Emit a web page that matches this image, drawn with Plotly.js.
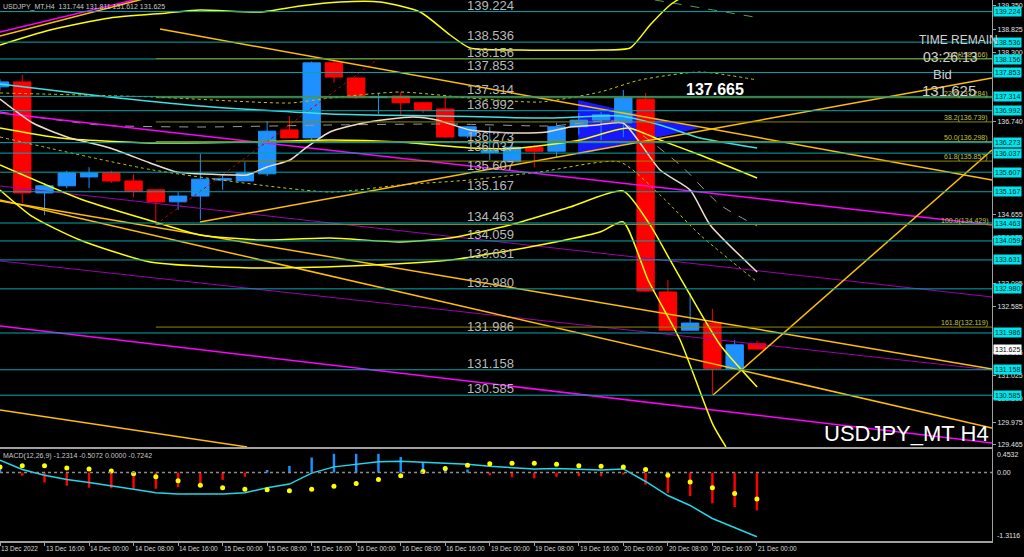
<!DOCTYPE html>
<html><head><meta charset="utf-8">
<script src="https://cdn.plot.ly/plotly-3.0.1.min.js"></script>
<style>html,body{margin:0;padding:0;background:#000;}#chart{width:1024px;height:557px;}</style>
</head><body><div id="chart"></div>
<script>
// ---------------- DATA ----------------
const symbolHeader = 'USDJPY_MT,H4  131.744 131.811 131.612 131.625';
const macdHeader = 'MACD(12,26,9) -1.2314 -0.5072 0.0000 -0.7242';
const barTimes = ['13 Dec 08:00','13 Dec 12:00','13 Dec 16:00','13 Dec 20:00',
 '14 Dec 00:00','14 Dec 04:00','14 Dec 08:00','14 Dec 12:00','14 Dec 16:00','14 Dec 20:00',
 '15 Dec 00:00','15 Dec 04:00','15 Dec 08:00','15 Dec 12:00','15 Dec 16:00','15 Dec 20:00',
 '16 Dec 00:00','16 Dec 04:00','16 Dec 08:00','16 Dec 12:00','16 Dec 16:00','16 Dec 20:00',
 '19 Dec 00:00','19 Dec 04:00','19 Dec 08:00','19 Dec 12:00','19 Dec 16:00','19 Dec 20:00',
 '20 Dec 00:00','20 Dec 04:00','20 Dec 08:00','20 Dec 12:00','20 Dec 16:00','20 Dec 20:00',
 '21 Dec 00:00'];
const openP  = [137.53,137.64,135.14,135.30,135.50,135.59,135.41,135.21,134.94,135.07,135.43,135.41,135.57,136.56,136.38,138.07,137.73,137.29,137.32,137.17,137.03,136.42,136.05,135.84,136.17,136.08,136.63,136.78,136.72,137.25,132.91,132.05,132.21,131.18,131.744];
const highP  = [137.70,137.80,135.36,135.64,135.72,135.64,135.57,135.21,135.16,136.02,135.55,135.84,136.76,136.87,138.10,138.166,137.75,137.39,137.41,137.19,137.35,136.65,136.63,136.40,136.22,136.72,136.94,136.96,137.46,137.39,133.18,132.89,132.53,131.83,131.811];
const lowP   = [137.45,134.91,134.64,135.25,135.25,135.36,135.05,134.43,134.76,134.53,135.21,135.41,135.52,136.38,136.30,137.62,137.26,136.92,136.90,136.94,136.38,136.38,135.88,135.84,135.72,135.95,136.45,136.33,136.40,132.91,132.05,132.05,130.59,131.18,131.612];
const closeP = [137.64,135.14,135.30,135.59,135.59,135.41,135.18,134.94,135.07,135.45,135.46,135.59,136.53,136.38,138.07,137.75,137.30,137.31,137.17,137.01,136.40,136.63,136.10,136.17,136.08,136.63,136.78,136.90,137.28,132.93,132.05,132.21,131.18,131.72,131.625];

const tickIdx = [0,2,4,6,8,10,12,14,16,18,20,22,24,26,28,30,32,34];
const tickLabels = ['13 Dec 2022','13 Dec 16:00','14 Dec 00:00','14 Dec 08:00','14 Dec 16:00','15 Dec 00:00','15 Dec 08:00','15 Dec 16:00','16 Dec 00:00','16 Dec 08:00','16 Dec 16:00','19 Dec 00:00','19 Dec 08:00','19 Dec 16:00','20 Dec 00:00','20 Dec 08:00','20 Dec 16:00','21 Dec 00:00'];
const priceTicks = [139.350,138.825,138.300,136.740,134.655,134.135,133.095,132.585,131.555,131.025,130.500,129.975,129.465];

const levelPrices = [139.224,138.536,138.156,137.853,137.314,136.992,136.273,136.037,135.607,135.167,134.463,134.059,133.631,132.980,131.986,131.158,130.585];
const fiboPct   = ['0.0','23.6','38.2','50.0','61.8','100.0','161.8'];
const fiboPrice = [138.166,137.284,136.739,136.298,135.857,134.429,132.119];
const fiboAnchorIdx   = [7, 17];
const fiboAnchorPrice = [134.429, 138.166];
const bidPrice = 131.625;
const markPrice = 137.665;

// indicator curves (bar index, price)
const bandUpperIdx = [0,2.25,4.94,7.50,8.98,11.68,13.48,15.27,17.07,18.87,20.22,21.11,23.36,26.95,28.30,29.20,30.10,30.8];
const bandUpperPx  = [138.472,138.809,139.080,139.192,139.260,139.215,139.350,139.440,139.440,139.215,138.697,138.404,138.359,138.359,138.404,138.922,139.372,139.60];
const bandMidIdx = [0,2.70,6.74,11.23,14.82,17.97,21.11,23.36,26.06,28.21,29.65,31.45,34.01];
const bandMidPx  = [136.603,136.377,136.265,136.287,136.333,136.287,136.152,136.152,136.333,136.603,136.333,135.995,135.477];
const bandLowIdx = [0,3.73,6.96,8.98,11.68,14.82,17.97,20.22,22.91,25.61,27.99,29.20,30.10,31.00,32.35,34.01];
const bandLowPx  = [135.770,134.981,134.486,134.193,134.081,134.126,134.036,134.126,134.419,134.824,135.184,134.419,133.630,132.842,131.716,130.770];
const bandLow2Idx = [0,1.48,3.59,6.74,11.23,15.72,20.22,24.26,26.95,27.99,29.11,30.55,32.03,32.61];
const bandLow2Px  = [135.207,134.599,134.081,133.585,133.450,133.495,133.630,133.968,134.261,134.486,133.180,131.829,129.915,129.419];
const maWhiteIdx = [0,1.48,3.01,4.94,6.74,7.95,10.47,11.10,11.99,13.03,13.79,14.82,16.31,18.55,19.63,21.11,23.05,24.57,25.61,26.82,27.99,29.65,31.00,31.90,34.01];
const maWhitePx  = [137.256,136.715,136.400,136.152,135.815,135.612,135.544,135.544,135.724,135.882,136.175,136.513,136.715,136.850,136.783,136.558,136.490,136.513,136.625,136.670,136.715,135.657,135.207,134.419,133.360];
const maCyanIdx = [0,4.49,8.98,14.82,19.77,24.71,27.85,29.65,31.45,34.01];
const maCyanPx  = [137.593,137.323,137.098,136.918,136.873,136.828,136.873,136.670,136.377,136.152];
const envUpIdx = [0,6.87,13.03,14.82,17.97,21.11,24.26,26.95,28.75,31.45,34.01];
const envUpPx  = [137.391,137.301,137.166,137.278,137.413,137.278,137.188,137.413,137.684,137.864,137.684];
const envLowIdx = [0,6.87,14.82,17.97,21.11,24.26,27.85,29.65,31.45,34.01];
const envLowPx  = [136.400,135.657,135.162,135.319,135.432,135.612,135.837,135.094,134.193,133.135];
const envGrayIdx = [0,4.49,8.98,14.82,20.22,24.71,27.85,30.55,32.35,34.01];
const envGrayPx  = [136.963,136.670,136.625,136.670,136.693,136.648,136.738,135.770,134.869,134.396];

// trend lines (two end points each)
const magentaAIdx = [0,44.56], magentaAPx = [136.940,134.419];
const purpleBIdx  = [0,44.56], purpleBPx  = [135.297,132.797];
const purpleDIdx  = [0,44.56], purpleDPx  = [133.608,131.153];
const magentaCIdx = [0,44.56], magentaCPx = [132.145,129.509];
const magentaTLIdx = [0,6.8], magentaTLPx = [138.764,139.58];
const goldTLIdx = [0,7.0], goldTLPx = [138.674,139.58];
const gold1Idx = [7.19,44.56], gold1Px = [138.832,135.432];
const gold2Idx = [8.98,44.56], gold2Px = [134.486,137.729];
const gold3Idx = [0,44.56], gold3Px = [134.959,131.176];
const gold4Idx = [0,44.56], gold4Px = [134.981,129.847];
const gold5Idx = [0,11.10], gold5Px = [130.253,129.419];
const gold6Idx = [32.03,44.56], gold6Px = [130.590,136.107];
const greenDashIdx = [29.42,34.14], greenDashPx = [139.485,139.080];
const zoneIdx = [25.97,31.45,25.97], zonePx = [137.233,136.603,135.995];

// MACD
const macdMain   = [0.24,0.06,-0.05,-0.13,-0.19,-0.25,-0.32,-0.385,-0.41,-0.41,-0.41,-0.385,-0.29,-0.22,-0.01,0.11,0.16,0.21,0.22,0.20,0.17,0.16,0.12,0.09,0.07,0.08,0.06,0.05,0.07,-0.17,-0.44,-0.63,-0.88,-1.06,-1.2314];
const macdSignal = [0.11,0.13,0.13,0.09,0.07,0.03,-0.02,-0.08,-0.155,-0.24,-0.29,-0.32,-0.33,-0.35,-0.32,-0.26,-0.21,-0.13,-0.06,0.02,0.08,0.14,0.17,0.18,0.18,0.16,0.13,0.12,0.11,0.06,-0.05,-0.18,-0.29,-0.40,-0.5072];
const macdHist   = [0.13,-0.06,-0.19,-0.25,-0.29,-0.30,-0.31,-0.31,-0.28,-0.20,-0.14,-0.08,0.05,0.13,0.29,0.36,0.36,0.36,0.30,0.20,0.12,0.06,-0.05,-0.09,-0.11,-0.08,-0.07,-0.07,-0.04,-0.23,-0.39,-0.45,-0.59,-0.66,-0.7242];
const macdTopLabel = 0.4532, macdBottomLabel = -1.3116;

// ---------------- CHART ----------------
const barIdx = barTimes.map((_, i) => i);
const xRange = [0, 44.56];
const priceRange = [129.419, 139.485];
const FONT = 'Liberation Sans, Arial, sans-serif';

const traces = [];
function line(xs, ys, color, width, dash) {
  traces.push({type:'scatter', mode:'lines', x:xs, y:ys, xaxis:'x', yaxis:'y',
    line:{color:color, width:width, dash:dash||'solid', shape:'spline', smoothing:0.6},
    hoverinfo:'skip', showlegend:false});
}
traces.push({type:'candlestick', x:barIdx, open:openP, high:highP, low:lowP, close:closeP,
  xaxis:'x', yaxis:'y', whiskerwidth:0, hoverinfo:'skip', showlegend:false,
  increasing:{line:{color:'#1e90ff', width:1}, fillcolor:'#1e90ff'},
  decreasing:{line:{color:'#ff0000', width:1}, fillcolor:'#ff0000'}});

line(envGrayIdx, envGrayPx, '#9a9a9a', 1, 'dash');
line(envUpIdx, envUpPx, '#c8c800', 1, 'dot');
line(envLowIdx, envLowPx, '#c8c800', 1, 'dot');
line(fiboAnchorIdx, fiboAnchorPrice, '#c00000', 1, 'dot');
line(purpleBIdx, purpleBPx, '#a000b0', 1);
line(purpleDIdx, purpleDPx, '#a000b0', 1);
line(magentaAIdx, magentaAPx, '#ff00ff', 1.5);
line(magentaCIdx, magentaCPx, '#ff00ff', 1.5);
line(magentaTLIdx, magentaTLPx, '#ff00ff', 1.5);
line(goldTLIdx, goldTLPx, '#ffbf00', 1.5);
line(gold1Idx, gold1Px, '#ffbf00', 1.5);
line(gold2Idx, gold2Px, '#ffbf00', 1.5);
line(gold3Idx, gold3Px, '#ffbf00', 1.5);
line(gold4Idx, gold4Px, '#ffbf00', 1.5);
line(gold5Idx, gold5Px, '#ffbf00', 1.5);
line(gold6Idx, gold6Px, '#ffbf00', 1.5);
line(greenDashIdx, greenDashPx, '#50a050', 1, 'dash');
line(maCyanIdx, maCyanPx, '#40e0e0', 1.5);
line(bandUpperIdx, bandUpperPx, '#ffff00', 1.5);
line(bandMidIdx, bandMidPx, '#ffff00', 1.5);
line(bandLowIdx, bandLowPx, '#ffff00', 1.5);
line(bandLow2Idx, bandLow2Px, '#ffff00', 1.5);
line(maWhiteIdx, maWhitePx, '#f0dcc8', 1.5);

// MACD panel
traces.push({type:'bar', x:barIdx, y:macdHist, xaxis:'x2', yaxis:'y2', width:0.11,
  marker:{color:macdHist.map(v => v >= 0 ? '#1e90ff' : '#ff0000'), line:{width:0}},
  hoverinfo:'skip', showlegend:false});
traces.push({type:'scatter', mode:'lines', x:barIdx, y:macdMain, xaxis:'x2', yaxis:'y2',
  line:{color:'#20d8e8', width:1.5}, hoverinfo:'skip', showlegend:false});
traces.push({type:'scatter', mode:'markers', x:barIdx, y:macdSignal, xaxis:'x2', yaxis:'y2',
  marker:{color:'#ffff00', size:5}, hoverinfo:'skip', showlegend:false});

// shapes
const shapes = [];
shapes.push({type:'path', xref:'x', yref:'y', layer:'below',
  path:'M' + zoneIdx.map((x, i) => x + ',' + zonePx[i]).join(' L') + ' Z',
  fillcolor:'#1818ff', line:{width:0}});
levelPrices.forEach(p => shapes.push({type:'line', xref:'paper', yref:'y', x0:0, x1:1, y0:p, y1:p,
  line:{color:'#00a8b0', width:1}, layer:'above'}));
fiboPrice.forEach(p => shapes.push({type:'line', xref:'x', yref:'y', x0:fiboAnchorIdx[0], x1:xRange[1], y0:p, y1:p,
  line:{color:'#8a8a00', width:1}, layer:'above'}));
shapes.push({type:'line', xref:'paper', yref:'y2', x0:0, x1:1, y0:0, y1:0, line:{color:'#8c8c8c', width:1.5, dash:'dot'}});

// annotations
const ann = [];
ann.push({xref:'paper', yref:'paper', x:0, y:1, xanchor:'left', yanchor:'top', xshift:1, yshift:-1, showarrow:false,
  text:symbolHeader, font:{family:FONT, size:7, color:'#c8c8c8'}});
ann.push({xref:'paper', yref:'paper', x:0, y:0.1701, xanchor:'left', yanchor:'top', xshift:1, yshift:-1, showarrow:false,
  text:macdHeader, font:{family:FONT, size:7, color:'#c8c8c8'}});
levelPrices.forEach(p => {
  ann.push({xref:'paper', yref:'y', x:0.494, y:p, xanchor:'center', yanchor:'bottom', yshift:-2, borderpad:0, showarrow:false,
    text:p.toFixed(3), font:{family:FONT, size:13, color:'#b9b9b9'}});
  ann.push({xref:'paper', yref:'y', x:1, y:p, xanchor:'left', yanchor:'middle', xshift:1, showarrow:false,
    text:p.toFixed(3), bgcolor:'#00e4ec', borderpad:1, font:{family:FONT, size:7, color:'#002a2a'}});
});
fiboPct.forEach((lbl, i) => ann.push({xref:'paper', yref:'y', x:1, y:fiboPrice[i], xanchor:'right', yanchor:'bottom',
  xshift:-2, yshift:-2, showarrow:false, text:lbl + '(' + fiboPrice[i].toFixed(3) + ')',
  font:{family:FONT, size:7, color:'#c0c040'}}));
ann.push({xref:'paper', yref:'y', x:1, y:bidPrice, xanchor:'left', yanchor:'middle', xshift:1, showarrow:false,
  text:bidPrice.toFixed(3), bgcolor:'#ffffff', borderpad:1, font:{family:FONT, size:7, color:'#000'}});
ann.push({xref:'x', yref:'y', x:32.1, y:markPrice, xanchor:'center', yanchor:'middle', yshift:-9, showarrow:false,
  text:'<b>' + markPrice.toFixed(3) + '</b>', font:{family:FONT, size:16, color:'#ffffff'}});
ann.push({xref:'paper', yref:'paper', x:0.966, y:0.926, xanchor:'center', yanchor:'middle', showarrow:false,
  text:'TIME REMAIN', font:{family:FONT, size:12, color:'#d0d0d0'}});
ann.push({xref:'paper', yref:'paper', x:0.958, y:0.8946, xanchor:'center', yanchor:'middle', showarrow:false,
  text:'03:26:13', font:{family:FONT, size:14, color:'#d0d0d0'}});
ann.push({xref:'paper', yref:'paper', x:0.9506, y:0.8614, xanchor:'center', yanchor:'middle', showarrow:false,
  text:'Bid', font:{family:FONT, size:13, color:'#d0d0d0'}});
ann.push({xref:'paper', yref:'paper', x:0.9567, y:0.8318, xanchor:'center', yanchor:'middle', showarrow:false,
  text:bidPrice.toFixed(3), font:{family:FONT, size:15, color:'#d0d0d0'}});
ann.push({xref:'paper', yref:'paper', x:1, y:0.1978, xanchor:'right', yanchor:'middle', xshift:-1, showarrow:false,
  text:'USDJPY_MT H4', font:{family:FONT, size:22, color:'#ffffff'}});
ann.push({xref:'paper', yref:'y2', x:1, y:macdTopLabel, xanchor:'left', yanchor:'top', xshift:3, showarrow:false,
  text:macdTopLabel.toFixed(4), font:{family:FONT, size:7, color:'#e0e0e0'}});
ann.push({xref:'paper', yref:'y2', x:1, y:0, xanchor:'left', yanchor:'middle', xshift:3, showarrow:false,
  text:'0.00', font:{family:FONT, size:7, color:'#e0e0e0'}});
ann.push({xref:'paper', yref:'y2', x:1, y:macdBottomLabel, xanchor:'left', yanchor:'bottom', xshift:3, showarrow:false,
  text:macdBottomLabel.toFixed(4), font:{family:FONT, size:7, color:'#e0e0e0'}});
tickIdx.forEach((t, i) => ann.push({xref:'x2', yref:'paper', x:t, y:0, xanchor:'left', yanchor:'top', yshift:-2, xshift:-1,
  showarrow:false, text:tickLabels[i], font:{family:FONT, size:6.5, color:'#d8d8d8'}}));

const layout = {
  width:1024, height:557, paper_bgcolor:'#000', plot_bgcolor:'#000',
  margin:{l:0, r:32, t:0, b:16}, showlegend:false, boxgap:0.22, boxgroupgap:0,
  font:{family:FONT, color:'#e0e0e0'},
  xaxis:{domain:[0,1], anchor:'y', range:xRange, showgrid:false, zeroline:false, showticklabels:false,
    ticks:'', showline:true, linecolor:'#a0a0a0', linewidth:2, rangeslider:{visible:false}, fixedrange:true},
  xaxis2:{domain:[0,1], anchor:'y2', range:xRange, matches:'x', showgrid:false, zeroline:false,
    showticklabels:false, ticks:'outside', tickvals:tickIdx, ticklen:3, tickcolor:'#a0a0a0',
    showline:true, linecolor:'#a0a0a0', linewidth:2, fixedrange:true},
  yaxis:{domain:[0.1738,1], anchor:'x', side:'right', range:priceRange, showgrid:false, zeroline:false,
    tickvals:priceTicks, ticktext:priceTicks.map(v => v.toFixed(3)),
    tickfont:{family:FONT, size:7, color:'#e0e0e0'}, ticks:'outside', ticklen:3, tickcolor:'#a0a0a0',
    showline:true, linecolor:'#a0a0a0', linewidth:1, fixedrange:true},
  yaxis2:{domain:[0,0.1701], anchor:'x2', side:'right', range:[macdBottomLabel, macdTopLabel], showgrid:false,
    zeroline:false, showticklabels:false, ticks:'', showline:true, linecolor:'#a0a0a0', linewidth:1, fixedrange:true},
  shapes:shapes, annotations:ann
};
Plotly.newPlot('chart', traces, layout, {staticPlot:true, displayModeBar:false});
</script></body></html>
